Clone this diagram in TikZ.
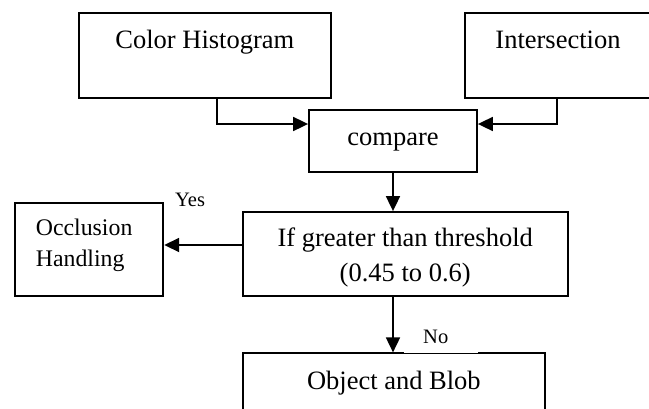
\documentclass[tikz,border=0pt]{standalone}
\usepackage{fontspec}
\setmainfont{Liberation Serif}
\usetikzlibrary{arrows.meta,calc}
\begin{document}
\begin{tikzpicture}[x=1pt,y=-1pt,
  box/.style={draw=black,line width=1.8pt,rectangle,inner sep=0pt,fill=none},
  big/.style={inner sep=0pt,anchor=base,font=\fontsize{26.5}{32}\selectfont},
  mid/.style={inner sep=0pt,anchor=base west,font=\fontsize{23.8}{30}\selectfont},
  small/.style={inner sep=0pt,anchor=base west,font=\fontsize{20.5}{25}\selectfont},
  arr/.style={line width=1.8pt,-{Triangle[length=15pt,width=14pt]}}]
\useasboundingbox (0,0) rectangle (649,408);
\clip (0,0) rectangle (649,408);
\fill[white] (0,0) rectangle (649,408);
% boxes
\node[box,minimum width=252.3pt,minimum height=85.6pt] (CH) at (204.85,55.5) {};
\node[box,minimum width=186pt,minimum height=85.6pt] (IN) at (558,55.5) {};
\node[box,minimum width=168pt,minimum height=61.7pt] (CMP) at (393,140.85) {};
\node[box,minimum width=325pt,minimum height=83.7pt] (THR) at (405.2,253.85) {};
\node[box,minimum width=148.6pt,minimum height=93.3pt] (OCC) at (89,249.35) {};
\node[box,minimum width=302.3pt,minimum height=70pt] (OBJ) at (393.85,388.3) {};
% texts
\node[big] (tCH) at (204.85,48.3) {Color Histogram};
\node[big] (tIN) at (558,48.3) {Intersection};
\node[big] (tCMP) at (393,145) {compare};
\node[big] (tTHR1) at (405.2,246.7) {If greater than threshold};
\node[big] (tTHR2) at (405.2,281.7) {(0.45 to 0.6)};
\node[mid] (tOCC1) at (35.7,235) {Occlusion};
\node[mid] (tOCC2) at (35.7,266) {Handling};
\node[big] (tOBJ) at (393.85,389) {Object and Blob};
% connectors
\draw[arr] ([xshift=11.85pt]CH.south) |- ([yshift=16.85pt]CMP.west);
\draw[arr] ([xshift=-0.7pt]IN.south) |- ([yshift=16.85pt]CMP.east);
\draw[arr] (CMP.south) -- (CMP.south |- THR.north);
\draw[arr] ([yshift=8.85pt]THR.west) -- ([yshift=8.85pt]THR.west -| OCC.east);
\draw[arr] (CMP.south |- THR.south) -- (CMP.south |- OBJ.north);
% labels
\node[small] (yes) at (175,206.7) {Yes};
\fill[white] (404,331) rectangle (477.7,353.3);
\node[small] (no) at (423,343) {No};
\end{tikzpicture}
\end{document}
